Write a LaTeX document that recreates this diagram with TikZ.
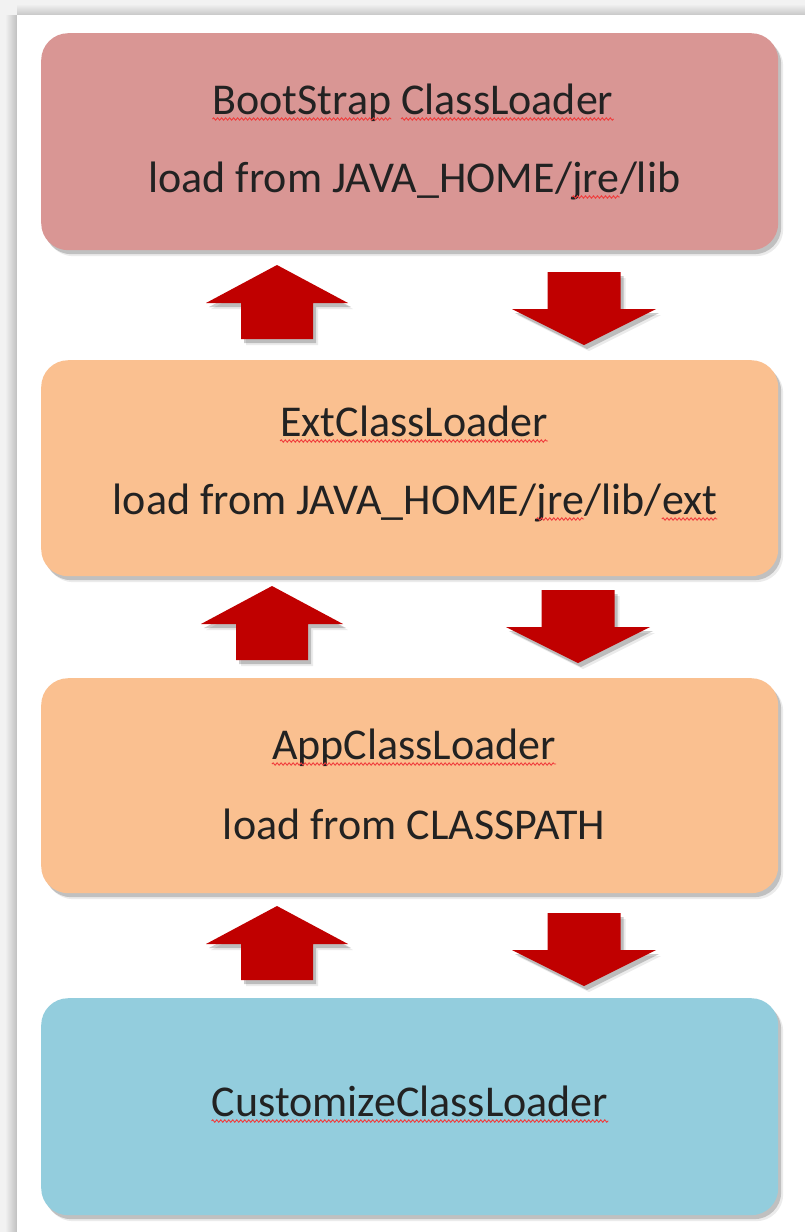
\documentclass[tikz,border=0pt]{standalone}
\usepackage{fontspec}
\setmainfont{Carlito}
\usetikzlibrary{shadows,decorations.pathmorphing}
\definecolor{bgc}{HTML}{F2F2F2}
\definecolor{pinkc}{HTML}{D99694}
\definecolor{orangec}{HTML}{FAC090}
\definecolor{bluec}{HTML}{93CDDD}
\definecolor{arrowc}{HTML}{C00000}
\definecolor{txtc}{HTML}{222222}
\definecolor{squigred}{HTML}{F03C3C}
\newcommand\blkup[2]{%
  \fill[arrowc, arrshadow] (#1,#2) -- ++(71,38) -- ++(-35,0) -- ++(0,36) -- ++(-72,0) -- ++(0,-36) -- ++(-35,0) -- cycle;}
\newcommand\blkdown[2]{%
  \fill[arrowc, arrshadow] (#1,#2) -- ++(72,-36) -- ++(-35.5,0) -- ++(0,-37) -- ++(-73,0) -- ++(0,37) -- ++(-35.5,0) -- cycle;}
\newcommand\wavy[1]{%
  \draw[squigline] ([yshift=-5pt]#1.base west) -- ([yshift=-5pt]#1.base east);}
\tikzset{
  boxshadow/.style={
    drop shadow={shadow xshift=3pt, shadow yshift=-4pt, opacity=.18, fill=black},
    drop shadow={shadow xshift=5pt, shadow yshift=-6pt, opacity=.08, fill=black}},
  arrshadow/.style={
    drop shadow={shadow xshift=3pt, shadow yshift=-4pt, opacity=.2, fill=black},
    drop shadow={shadow xshift=5pt, shadow yshift=-6pt, opacity=.08, fill=black}},
  loaderbox/.style={rectangle, rounded corners=27pt, minimum width=737pt,
    minimum height=217pt, inner sep=0pt, anchor=north west, boxshadow},
  lbl/.style={anchor=base, inner sep=0pt, text=txtc,
    font=\fontsize{44pt}{50pt}\selectfont},
  seg/.style={lbl, anchor=base west},
  squigline/.style={draw=squigred, line width=0.9pt,
    decorate, decoration={snake, amplitude=1.2pt, segment length=4pt}}
}
\begin{document}
\begin{tikzpicture}[x=1pt, y=-1pt]
\useasboundingbox (0,0) rectangle (805,1232);
% background and panel
\fill[bgc] (0,0) rectangle (805,1232);
\shade[left color=bgc, right color=black!25] (5,15) rectangle (17,1232);
\shade[top color=bgc, bottom color=black!22] (17,4) rectangle (805,15);
\fill[white] (17,15) rectangle (805,1232);
% boxes
\node[loaderbox, fill=pinkc]   (boot) at (41,33)  {};
\node[loaderbox, fill=orangec, minimum height=216pt] (ext)  at (41,360) {};
\node[loaderbox, fill=orangec, minimum height=215pt] (app)  at (41,678) {};
\node[loaderbox, fill=bluec]   (cust) at (41,998) {};
% texts
\node[lbl] (boot1) at (413,114) {\phantom{BootStrap ClassLoader}};
\node[seg] (boot1a) at (boot1.base west) {BootStrap};
\node[lbl, anchor=base east] (boot1b) at (boot1.base east) {ClassLoader};
\wavy{boot1a}\wavy{boot1b}
\node[lbl] (boot2) at (414,192) {\phantom{load from JAVA\_HOME/jre/lib}};
\node[seg] (boot2a) at (boot2.base west) {load from JAVA\_HOME/};
\node[seg] (boot2b) at (boot2a.base east) {jre};
\node[seg] (boot2c) at (boot2b.base east) {/lib};
\wavy{boot2b}
\node[lbl] (ext1) at (414,436) {ExtClassLoader};
\wavy{ext1}
\node[lbl] (ext2) at (414,514) {\phantom{load from JAVA\_HOME/jre/lib/ext}};
\node[seg] (ext2a) at (ext2.base west) {load from JAVA\_HOME/};
\node[seg] (ext2b) at (ext2a.base east) {jre};
\node[seg] (ext2c) at (ext2b.base east) {/lib/};
\node[seg] (ext2d) at (ext2c.base east) {ext};
\wavy{ext2b}\wavy{ext2d}
\node[lbl] (app1) at (414,759) {AppClassLoader};
\wavy{app1}
\node[lbl] (app2) at (414,839) {load from CLASSPATH};
\node[lbl] (cust1) at (410,1116) {CustomizeClassLoader};
\wavy{cust1}
% block arrows
\blkup{277}{265}
\blkdown{584}{345}
\blkup{272}{586}
\blkdown{578}{663}
\blkup{277}{906}
\blkdown{584}{986}
\end{tikzpicture}
\end{document}
